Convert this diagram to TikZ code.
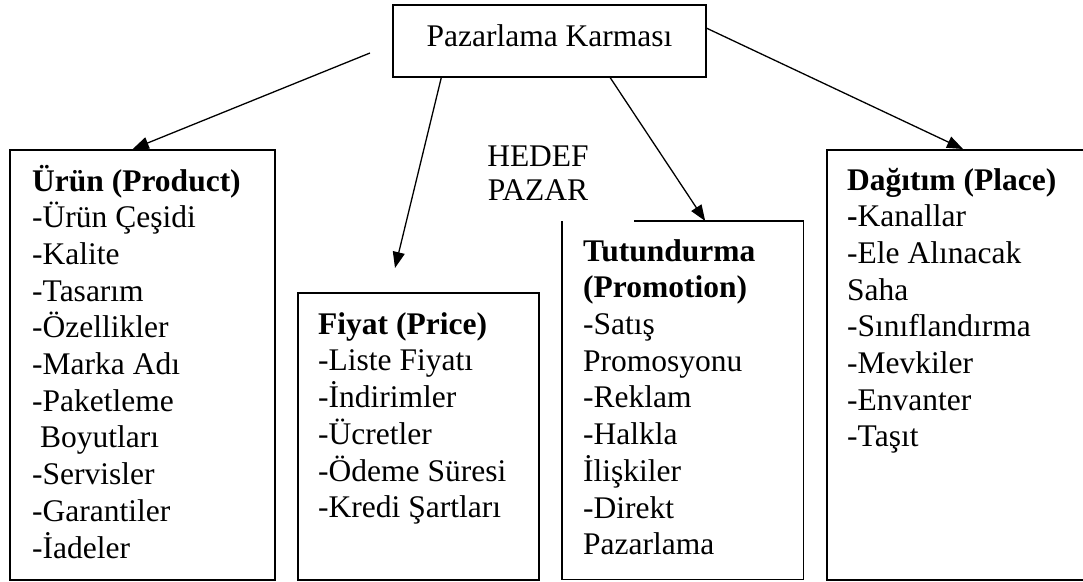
\documentclass[tikz,border=0pt]{standalone}
\usepackage{fontspec}
\setmainfont{Liberation Serif}
\usetikzlibrary{arrows.meta}
\newcommand{\listfont}{\fontsize{31.5}{36.7}\selectfont}
\newcommand{\hedeffont}{\fontsize{31.5}{34}\selectfont}

\begin{document}
\begin{tikzpicture}[x=1pt, y=-1pt,
    kutu/.style={draw, line width=1.5pt, inner sep=0pt, anchor=north west},
    ok/.style={line width=1.3pt, -{Triangle[length=16pt,width=12pt]}},
    liste/.style={anchor=base west, inner sep=0pt, font=\listfont}]
    \useasboundingbox (0,0) rectangle (1083,581);

    % ana kutu
    \node[kutu, anchor=center, minimum width=313pt, minimum height=72pt,
          text height=22pt, text depth=12pt, font=\listfont] (pk) at (549.5,41) {Pazarlama Karması};

    % dort kutu
    \node[kutu, minimum width=265pt, minimum height=430pt] (urun) at (9,149) {};
    \node[kutu, minimum width=241pt, minimum height=287pt] (fiyat) at (297,292) {};
    \node[inner sep=0pt, anchor=north west, minimum width=241pt, minimum height=358pt] (tut) at (562,221) {};
    \draw[line width=1.5pt] ([shift={(72,0)}]tut.north west) -- (tut.north east)
        -- (tut.south east) -- (tut.south west) -- (tut.north west);
    \node[kutu, minimum width=264pt, minimum height=430pt] (dag) at (826,149) {};

    \node[liste] (urunyazi) at (32,191) {\begin{tabular}[t]{@{}l@{}}
        \textbf{Ürün (Product)}\\ -Ürün Çeşidi\\ -Kalite\\ -Tasarım\\ -Özellikler\\
        -Marka Adı\\ -Paketleme\\ \hspace*{.25em}Boyutları\\ -Servisler\\ -Garantiler\\ -İadeler
    \end{tabular}};
    \node[liste] (fiyatyazi) at (318,334) {\begin{tabular}[t]{@{}l@{}}
        \textbf{Fiyat (Price)}\\ -Liste Fiyatı\\ -İndirimler\\ -Ücretler\\ -Ödeme Süresi\\ -Kredi Şartları
    \end{tabular}};
    \node[liste] (tutyazi) at (583,261) {\begin{tabular}[t]{@{}l@{}}
        \textbf{Tutundurma}\\ \textbf{(Promotion)}\\ -Satış\\ Promosyonu\\ -Reklam\\
        -Halkla\\ İlişkiler\\ -Direkt\\ Pazarlama
    \end{tabular}};
    \node[liste] (dagyazi) at (847,190) {\begin{tabular}[t]{@{}l@{}}
        \textbf{Dağıtım (Place)}\\ \textbf{-}Kanallar\\ -Ele Alınacak\\ Saha\\ -Sınıflandırma\\
        -Mevkiler\\ -Envanter\\ -Taşıt
    \end{tabular}};

    \node[anchor=base, inner sep=0pt, font=\hedeffont] (hedef) at (538,166)
        {\begin{tabular}[t]{@{}c@{}}HEDEF\\ PAZAR\end{tabular}};

    % oklar
    \coordinate (u1) at (370,53);
    \coordinate (f1) at (395,268);
    \draw[ok] (u1) -- ([shift={(-9.5,0)}]urun.north);
    \draw[ok] ([shift={(49,0)}]pk.south west) -- (f1);
    \draw[ok] ([shift={(218,0)}]pk.south west) -- ([shift={(22.5,0)}]tut.north);
    \draw[ok] ([shift={(0,24)}]pk.north east) -- ([shift={(137,0)}]dag.north west);
\end{tikzpicture}
\end{document}
